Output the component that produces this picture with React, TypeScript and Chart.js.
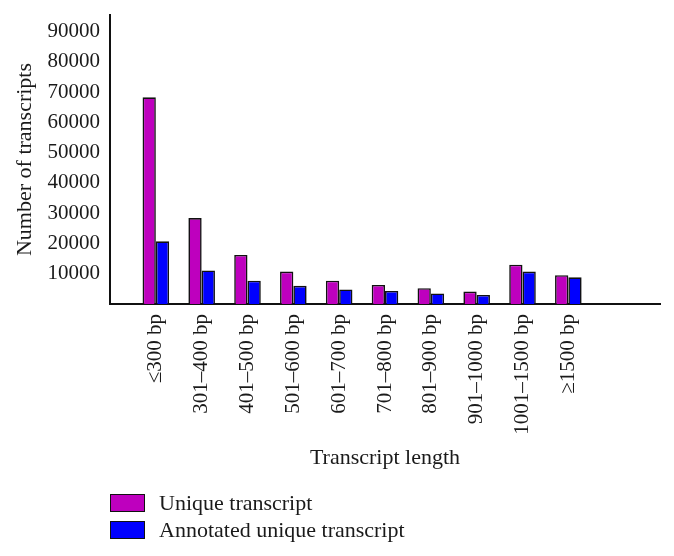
import React, { useEffect, useRef } from "react";
import { Chart, registerables } from "chart.js";

Chart.register(...registerables);

const categories = [
  "≤300 bp",
  "301–400 bp",
  "401–500 bp",
  "501–600 bp",
  "601–700 bp",
  "701–800 bp",
  "801–900 bp",
  "901–1000 bp",
  "1001–1500 bp",
  "≥1500 bp",
];
const uniqueTranscript = [68300, 28400, 16200, 10700, 7700, 6300, 5200, 4100, 13000, 9500];
const annotatedUniqueTranscript = [20700, 11100, 7700, 6000, 4800, 4300, 3500, 3000, 10700, 8800];
const yTickValues = [10000, 20000, 30000, 40000, 50000, 60000, 70000, 80000, 90000];
const seriesNames = ["Unique transcript", "Annotated unique transcript"];
const seriesColors = ["#BE00BE", "#0000FF"];

const FONT = "'Liberation Serif', 'DejaVu Serif', serif";
const TEXT = "#1a1a1a";

export default function App() {
  const canvasRef = useRef<HTMLCanvasElement | null>(null);

  useEffect(() => {
    const canvas = canvasRef.current;
    if (!canvas) return;
    // one empty slot before and two after the categories, as in the original axis
    const labels = ["", ...categories, "", ""];
    const pad = (arr: number[]) => [null, ...arr, null, null];
    const chart = new Chart(canvas, {
      type: "bar",
      data: {
        labels,
        datasets: [
          {
            label: seriesNames[0],
            data: pad(uniqueTranscript),
            backgroundColor: seriesColors[0],
            borderColor: "#111",
            borderWidth: 1.6,
            categoryPercentage: 0.58,
            barPercentage: 1,
          },
          {
            label: seriesNames[1],
            data: pad(annotatedUniqueTranscript),
            backgroundColor: seriesColors[1],
            borderColor: "#111",
            borderWidth: 1.6,
            categoryPercentage: 0.58,
            barPercentage: 1,
          },
        ],
      },
      options: {
        animation: false,
        responsive: false,
        maintainAspectRatio: false,
        layout: { padding: { left: 0, right: 14, top: 15, bottom: 85 } },
        plugins: {
          legend: { display: false },
          tooltip: { enabled: false },
        },
        scales: {
          x: {
            type: "category",
            offset: false,
            grid: { display: false, drawTicks: false, offset: false },
            border: { display: true, color: "#111", width: 2 },
            ticks: {
              autoSkip: false,
              minRotation: 90,
              maxRotation: 90,
              padding: 10,
              color: TEXT,
              font: { family: FONT, size: 21 },
            },
            title: {
              display: true,
              text: "Transcript length",
              color: TEXT,
              font: { family: FONT, size: 22 },
              padding: { top: 0, bottom: 0 },
            },
            afterFit: (scale: any) => {
              scale.height = 167;
              scale.paddingLeft = 0;
              scale.paddingRight = 0;
            },
          },
          y: {
            type: "linear",
            min: 0,
            max: 95500,
            grid: { display: false, drawTicks: false },
            border: { display: true, color: "#111", width: 2 },
            ticks: {
              padding: 10,
              color: TEXT,
              font: { family: FONT, size: 21 },
              callback: (v: any) => String(v),
            },
            afterBuildTicks: (scale: any) => {
              scale.ticks = yTickValues.map((v) => ({ value: v }));
            },
            title: {
              display: true,
              text: "Number of transcripts",
              color: TEXT,
              font: { family: FONT, size: 22 },
              padding: { top: 12, bottom: 0 },
            },
            afterFit: (scale: any) => {
              scale.width = 110;
              scale.paddingTop = 0;
              scale.paddingBottom = 0;
            },
          },
        },
      },
    });
    return () => chart.destroy();
  }, []);

  const legendItem = (i: number, top: number) => (
    <div
      key={i}
      style={{
        position: "absolute",
        left: 110,
        top,
        height: 20,
        display: "flex",
        alignItems: "center",
        whiteSpace: "nowrap",
      }}
    >
      <div
        style={{
          width: 33,
          height: 16,
          background: seriesColors[i],
          border: "1.5px solid #111",
        }}
      />
      <span
        style={{
          marginLeft: 14,
          fontFamily: FONT,
          fontSize: 22,
          color: TEXT,
          lineHeight: "20px",
        }}
      >
        {seriesNames[i]}
      </span>
    </div>
  );

  return (
    <div style={{ position: "absolute", left: 0, top: 0, width: 674, height: 556, background: "#fff" }}>
      <canvas ref={canvasRef} width={674} height={556} style={{ display: "block" }} />
      {legendItem(0, 493)}
      {legendItem(1, 520)}
    </div>
  );
}
